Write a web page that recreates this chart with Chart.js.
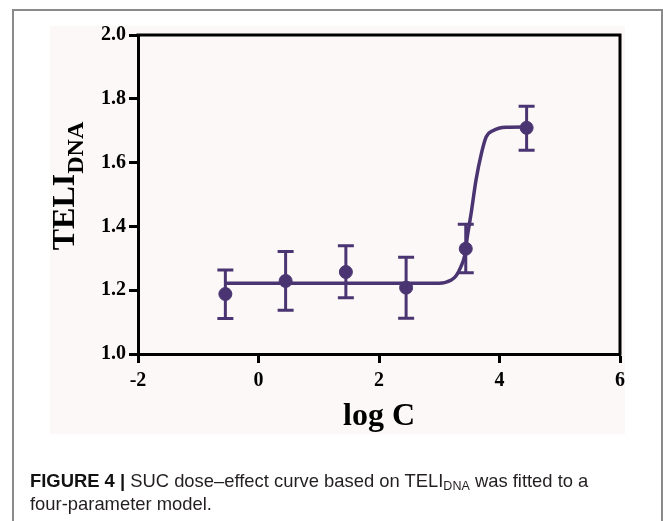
<!DOCTYPE html>
<html>
<head>
<meta charset="utf-8">
<script src="https://cdn.jsdelivr.net/npm/chart.js@4"></script>
<style>
  html, body { margin: 0; padding: 0; background: #ffffff; }
  #wrap { position: relative; width: 663px; height: 521px; overflow: hidden; }
  #frame { position: absolute; left: 12px; top: 9px; width: 651px; height: 530px;
           border: 2px solid #8a8a8a; box-sizing: border-box; }
  canvas { position: absolute; left: 0; top: 0; }
  #caption { position: absolute; left: 30px; top: 469px; width: 625px;
             font-family: "Liberation Sans", Arial, sans-serif; font-size: 18.4px;
             line-height: 23px; color: #231f20; white-space: nowrap; }
  #caption b { font-weight: bold; color: #111; }
  #caption sub { font-size: 12.5px; vertical-align: -3px; line-height: 0; }
</style>
</head>
<body>
<div id="wrap">
  <div id="frame"></div>
  <canvas id="c" width="663" height="521"></canvas>
  <div id="caption"><b>FIGURE 4 |</b> SUC dose–effect curve based on TELI<sub>DNA</sub> was fitted to a<br>four-parameter model.</div>
</div>
<script>
// Measured points (mean with error bar limits)
const logC      = [-0.55, 0.45, 1.45, 2.45, 3.44, 4.45];
const teliMean  = [1.188, 1.229, 1.257, 1.208, 1.330, 1.709];
const errUpper  = [1.263, 1.321, 1.339, 1.303, 1.407, 1.777];
const errLower  = [1.111, 1.137, 1.176, 1.112, 1.255, 1.639];

// Four-parameter fitted curve, sampled
const fitX = [-0.55, 3.00, 3.20, 3.28, 3.36, 3.42, 3.47, 3.53, 3.61, 3.70, 3.78, 3.89, 4.11, 4.47];
const fitY = [1.222, 1.222, 1.232, 1.245, 1.274, 1.307, 1.373, 1.442, 1.545, 1.629, 1.681, 1.700, 1.711, 1.712];

// Axis ticks
const xTicks = [-2, 0, 2, 4, 6];
const yTicks = [1.0, 1.2, 1.4, 1.6, 1.8, 2.0];

const PURPLE = '#4a3572';
const SERIF = '"Liberation Serif", "Times New Roman", serif';

const pointData = logC.map((x, i) => ({ x, y: teliMean[i] }));
const fitData = fitX.map((x, i) => ({ x, y: fitY[i] }));

// Light panel behind the plot
const panelBg = {
  id: 'panelBg',
  beforeDraw(chart) {
    const ctx = chart.ctx;
    ctx.save();
    ctx.fillStyle = '#fcf8f7';
    ctx.fillRect(50, 26, 575, 408);
    ctx.restore();
  }
};

// Error bars, box edges and the y title
const extras = {
  id: 'extras',
  afterDatasetsDraw(chart) {
    const ctx = chart.ctx;
    const xs = chart.scales.x, ys = chart.scales.y;
    ctx.save();
    ctx.strokeStyle = PURPLE;
    ctx.lineWidth = 3;
    ctx.lineCap = 'butt';
    logC.forEach((v, i) => {
      const px = xs.getPixelForValue(v);
      const pt = ys.getPixelForValue(errUpper[i]);
      const pb = ys.getPixelForValue(errLower[i]);
      ctx.beginPath();
      ctx.moveTo(px, pt); ctx.lineTo(px, pb);
      ctx.moveTo(px - 8, pt); ctx.lineTo(px + 8, pt);
      ctx.moveTo(px - 8, pb); ctx.lineTo(px + 8, pb);
      ctx.stroke();
    });
    ctx.restore();
  },
  afterDraw(chart) {
    const ctx = chart.ctx;
    const a = chart.chartArea;
    ctx.save();
    ctx.strokeStyle = '#000';
    ctx.lineWidth = 3;
    ctx.beginPath();
    ctx.moveTo(a.left - 1.5, a.top);
    ctx.lineTo(a.right, a.top);
    ctx.lineTo(a.right, a.bottom + 1.5);
    ctx.stroke();

    // y title: TELI with subscript DNA
    ctx.fillStyle = '#000';
    ctx.translate(74, 186);
    ctx.rotate(-Math.PI / 2);
    ctx.textBaseline = 'alphabetic';
    ctx.textAlign = 'left';
    ctx.font = 'bold 32px ' + SERIF;
    const mainW = ctx.measureText('TELI').width;
    ctx.font = 'bold 24px ' + SERIF;
    const subW = ctx.measureText('DNA').width;
    const start = -(mainW + subW) / 2;
    ctx.font = 'bold 32px ' + SERIF;
    ctx.fillText('TELI', start, 0);
    ctx.font = 'bold 24px ' + SERIF;
    ctx.fillText('DNA', start + mainW, 9);
    ctx.restore();
  }
};

new Chart(document.getElementById('c'), {
  type: 'scatter',
  data: {
    datasets: [
      {
        data: fitData,
        showLine: true,
        borderColor: PURPLE,
        borderWidth: 3.5,
        pointRadius: 0,
        cubicInterpolationMode: 'monotone',
        order: 2
      },
      {
        data: pointData,
        showLine: false,
        backgroundColor: PURPLE,
        borderColor: PURPLE,
        pointRadius: 6.5,
        pointHoverRadius: 6.5,
        order: 1
      }
    ]
  },
  options: {
    responsive: false,
    animation: false,
    events: [],
    layout: { padding: { left: 0, top: 35, right: 43, bottom: 85 } },
    plugins: { legend: { display: false }, tooltip: { enabled: false } },
    scales: {
      x: {
        type: 'linear',
        min: -2, max: 6,
        afterBuildTicks(scale) { scale.ticks = xTicks.map(v => ({ value: v })); },
        afterFit(scale) { scale.height = 521 - 85 - 354; },
        border: { display: true, color: '#000', width: 3 },
        grid: { drawOnChartArea: false, drawTicks: true, tickLength: 9, tickWidth: 3, tickColor: '#000' },
        ticks: {
          color: '#000', padding: 6,
          font: { family: SERIF, size: 20, weight: 'bold' }
        },
        title: {
          display: true, text: 'log C', color: '#000',
          font: { family: SERIF, size: 32, weight: 'bold' },
          padding: { top: 0, bottom: 0 }
        }
      },
      y: {
        type: 'linear',
        min: 1.0, max: 2.0,
        afterBuildTicks(scale) { scale.ticks = yTicks.map(v => ({ value: v })); },
        afterFit(scale) { scale.width = 138; },
        border: { display: true, color: '#000', width: 3 },
        grid: { drawOnChartArea: false, drawTicks: true, tickLength: 9, tickWidth: 3, tickColor: '#000' },
        ticks: {
          color: '#000', padding: 3,
          font: { family: SERIF, size: 20, weight: 'bold' },
          callback: v => v.toFixed(1)
        }
      }
    }
  },
  plugins: [panelBg, extras]
});
</script>
</body>
</html>
